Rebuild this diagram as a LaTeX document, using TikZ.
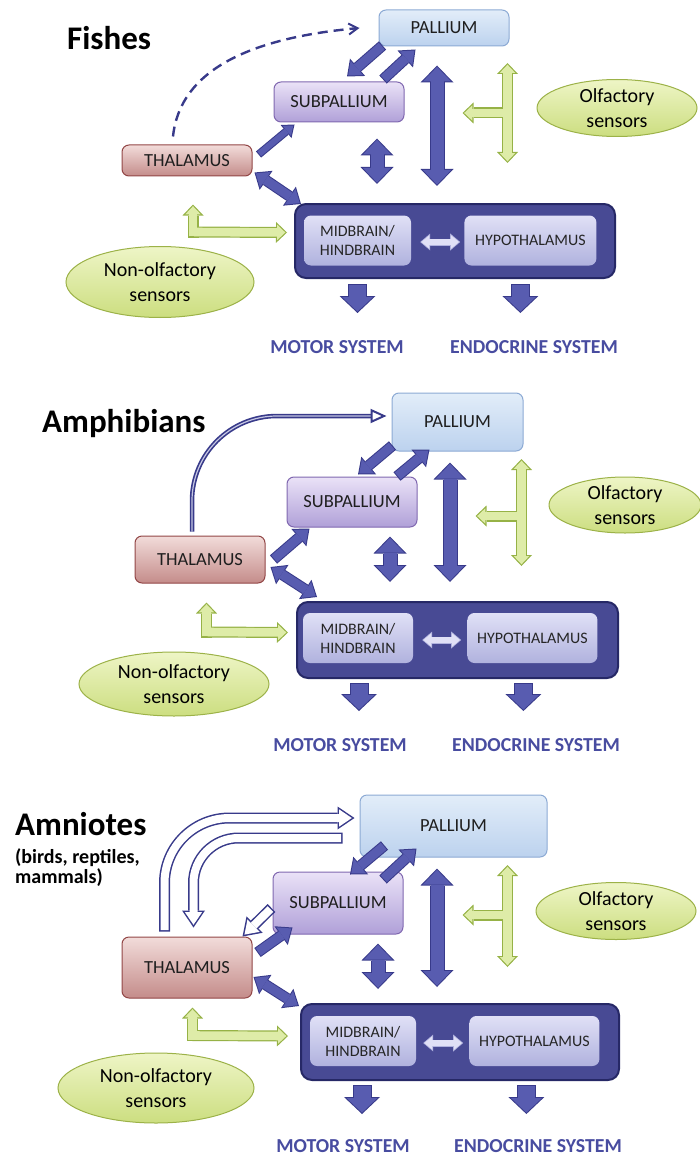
\documentclass[tikz,border=0pt]{standalone}
\usepackage{fontspec}
\setmainfont{Carlito}
\usetikzlibrary{arrows.meta,positioning,shapes.geometric,calc}
\definecolor{palTop}{RGB}{226,237,249}
\definecolor{palBot}{RGB}{188,210,238}
\definecolor{palEdge}{RGB}{140,170,212}
\definecolor{subTop}{RGB}{234,226,247}
\definecolor{subBot}{RGB}{176,160,216}
\definecolor{subEdge}{RGB}{128,104,176}
\definecolor{thalTop}{RGB}{242,220,218}
\definecolor{thalBot}{RGB}{196,140,138}
\definecolor{thalEdge}{RGB}{146,70,70}
\definecolor{stemFill}{RGB}{72,74,148}
\definecolor{stemEdge}{RGB}{38,40,102}
\definecolor{coreTop}{RGB}{224,224,246}
\definecolor{coreBot}{RGB}{176,178,222}
\definecolor{senTop}{RGB}{238,245,198}
\definecolor{senBot}{RGB}{204,222,128}
\definecolor{senEdge}{RGB}{156,178,72}
\definecolor{grFill}{RGB}{222,236,168}
\definecolor{grEdge}{RGB}{150,178,70}
\definecolor{arrBlue}{RGB}{88,92,176}
\definecolor{arrEdge}{RGB}{56,58,138}
\definecolor{sysBlue}{RGB}{72,76,160}
\newcommand{\textsz}[2]{\fontsize{#1}{#2}\selectfont}

\begin{document}
\begin{tikzpicture}[x=1pt, y=-1pt,
  region/.style={rounded corners=7pt, line width=1pt, minimum width=130pt, inner sep=0pt, font=\textsz{18.5}{20}, text=black!88},
  pallium/.style={region, draw=palEdge, top color=palTop, bottom color=palBot},
  subpallium/.style={region, draw=subEdge, top color=subTop, bottom color=subBot},
  thalamus/.style={region, draw=thalEdge, top color=thalTop, bottom color=thalBot},
  stem/.style={rounded corners=11pt, draw=stemEdge, line width=2pt, fill=stemFill, minimum width=320pt, minimum height=74pt, inner sep=0pt},
  core/.style={rounded corners=7pt, top color=coreTop, bottom color=coreBot, inner sep=0pt, minimum height=50pt, align=center, font=\textsz{16}{19}, text=black!85},
  sensor/.style={ellipse, draw=senEdge, line width=1pt, top color=senTop, bottom color=senBot, inner sep=0pt, align=center, font=\textsz{20}{24.5}},
  system/.style={font=\bfseries\textsz{19.8}{20}, text=sysBlue, inner sep=0pt},
  group/.style={font=\bfseries\textsz{33}{36}, anchor=base west, inner sep=0pt},
  % block arrows: dark outline drawn first, lighter body on top
  link/.style={draw=arrBlue, line width=9pt, shorten >=1.6pt, shorten <=1pt, -{Triangle[width=18.8pt,length=11.4pt,line width=0pt]},
    preaction={draw=arrEdge, line width=11pt, shorten >=0pt, shorten <=0pt, -{Triangle[width=23pt,length=14pt,line width=0pt]}}},
  linkboth/.style={draw=arrBlue, line width=9pt, shorten >=1.6pt, shorten <=1.6pt, {Triangle[width=18.8pt,length=11.4pt,line width=0pt]}-{Triangle[width=18.8pt,length=11.4pt,line width=0pt]},
    preaction={draw=arrEdge, line width=11pt, shorten >=0pt, shorten <=0pt, {Triangle[width=23pt,length=14pt,line width=0pt]}-{Triangle[width=23pt,length=14pt,line width=0pt]}}},
  thinarr/.style={draw=arrBlue, line width=6pt, shorten >=1.6pt, shorten <=1pt, -{Triangle[width=12.9pt,length=8.4pt,line width=0pt]},
    preaction={draw=arrEdge, line width=8pt, shorten >=0pt, shorten <=0pt, -{Triangle[width=17pt,length=11pt,line width=0pt]}}},
  vdbl/.style={draw=arrBlue, line width=13pt, shorten >=1.4pt, shorten <=1.4pt, {Triangle[width=28.3pt,length=14.6pt,line width=0pt]}-{Triangle[width=28.3pt,length=14.6pt,line width=0pt]},
    preaction={draw=arrEdge, line width=15pt, shorten >=0pt, shorten <=0pt, {Triangle[width=33pt,length=17pt,line width=0pt]}-{Triangle[width=33pt,length=17pt,line width=0pt]}}},
  sysarr/.style={draw=arrBlue, line width=17pt, shorten >=1.4pt, shorten <=1pt, -{Triangle[width=31pt,length=14.6pt,line width=0pt]},
    preaction={draw=arrEdge, line width=19pt, shorten >=0pt, shorten <=0pt, -{Triangle[width=36pt,length=17pt,line width=0pt]}}},
  wdbl/.style={draw=coreTop, line width=5.4pt, shorten >=1.2pt, shorten <=1.2pt, {Triangle[width=13.5pt,length=8pt,line width=0pt]}-{Triangle[width=13.5pt,length=8pt,line width=0pt]},
    preaction={draw=coreBot, line width=7pt, shorten >=0pt, shorten <=0pt, {Triangle[width=17pt,length=10pt,line width=0pt]}-{Triangle[width=17pt,length=10pt,line width=0pt]}}},
  gout/.style={draw=grEdge, line width=11pt, shorten >=0pt, shorten <=0pt, -{Triangle[width=21pt,length=11pt,line width=0pt]}},
  gin/.style={draw=grFill, line width=8.6pt, shorten >=1.7pt, shorten <=1.2pt, -{Triangle[width=15.4pt,length=8.1pt,line width=0pt]}},
  gone/.style={gin, preaction={gout}},
  gboth/.style={draw=grFill, line width=8.6pt, shorten >=1.7pt, shorten <=1.7pt, {Triangle[width=15.4pt,length=8.1pt,line width=0pt]}-{Triangle[width=15.4pt,length=8.1pt,line width=0pt]},
    preaction={draw=grEdge, line width=11pt, shorten >=0pt, shorten <=0pt, {Triangle[width=21pt,length=11pt,line width=0pt]}-{Triangle[width=21pt,length=11pt,line width=0pt]}}},
  hollow/.style={draw=white, line width=8pt, shorten >=2.7pt, shorten <=1.5pt, -{Triangle[width=17.4pt,length=12.8pt,line width=0pt]},
    preaction={draw=arrEdge, line width=11pt, shorten >=0pt, shorten <=0pt, -{Triangle[width=23pt,length=17pt,line width=0pt]}}},
  hint/.style={draw=arrEdge, line width=2.4pt, dash pattern=on 10pt off 6pt, -{Straight Barb[length=9pt,width=11pt,line width=2pt]}},
  bypass/.style={draw=arrEdge, line width=4.5pt, -{Triangle[open,width=14pt,length=16pt,line width=2pt]},
    postaction={draw=arrBlue!35!white, line width=1.2pt, shorten >=16pt, -}}]

\useasboundingbox (0,0) rectangle (699,1161);

% ---------- Fishes
\node[group] (fish) at (67,50) {Fishes};
\node[pallium, minimum height=36pt] (pal1) at (444,28) {PALLIUM};
\node[subpallium, minimum height=40pt] (sub1) at (339,102) {SUBPALLIUM};
\node[thalamus, minimum height=31pt] (thal1) at (187,160.5) {THALAMUS};
\node[sensor, minimum width=160pt, minimum height=57pt] (olf1) at (617,108) {Olfactory\\sensors};
\node[stem] (stem1) at (455,241) {};
\node[core, minimum width=107pt] (mid1) at (357.5,240.5) {MIDBRAIN/\\HINDBRAIN};
\node[core, minimum width=132pt, right=53pt of mid1] (hyp1) {HYPOTHALAMUS};
\node[sensor, minimum width=188pt, minimum height=71pt] (non1) at (160,282) {Non-olfactory\\sensors};
\node[system] (mot1) at (337,347) {MOTOR SYSTEM};
\node[system] (endo1) at (534,347) {ENDOCRINE SYSTEM};

\draw[hint] ([shift={(-14,-8)}]thal1.north) .. controls (180,70) and (250,38) .. ([shift={(-19,0)}]pal1.west);
\draw[link] ([shift={(4,-1)}]pal1.south west) -- ([shift={(8,-5)}]sub1.north);
\draw[link] ([shift={(44,-2)}]sub1.north) -- ([shift={(37,3)}]pal1.south west);
\draw[thinarr] ([shift={(6,10)}]thal1.north east) -- ([shift={(21,2)}]sub1.south west);
\draw[linkboth] ([shift={(2,-4)}]thal1.south east) -- ([shift={(7,1)}]stem1.north west);
\draw[vdbl] ([shift={(38,16)}]sub1.south) -- ([shift={(-78,-19)}]stem1.north);
\draw[vdbl] ([shift={(-7,19)}]pal1.south) -- ([shift={(-18,-17)}]stem1.north);
\coordinate (h1) at ([shift={(-29,5)}]olf1.west);
\coordinate (h1tip) at ([shift={(-74,5)}]olf1.west);
\draw[gout] (h1) -- (h1tip);
\draw[gboth] ([shift={(0,-50)}]h1) -- ([shift={(0,50)}]h1);
\draw[gin] (h1) -- (h1tip);
\coordinate (c1) at ([shift={(33,-14)}]non1.north);
\draw[gout] (c1) -- ([shift={(-7,-8.5)}]stem1.west);
\draw[gone] ([shift={(0,5.5)}]c1) -- ([shift={(0,-27.5)}]c1);
\draw[gin] (c1) -- ([shift={(-7,-8.5)}]stem1.west);
\draw[wdbl] ([shift={(9,1.5)}]mid1.east) -- ([shift={(-4,1.5)}]hyp1.west);
\draw[sysarr] ($(stem1.south -| mid1)+(0,5)$) -- ($(stem1.south -| mid1)+(0,34)$);
\draw[sysarr] ($(stem1.south -| hyp1)+(-10,5)$) -- ($(stem1.south -| hyp1)+(-10,34)$);

% ---------- Amphibians
\node[group] (amph) at (42,432) {Amphibians};
\node[pallium, minimum width=131pt, minimum height=58pt] (pal2) at (457.5,422) {PALLIUM};
\node[subpallium, minimum height=50pt] (sub2) at (352,502) {SUBPALLIUM};
\node[thalamus, minimum height=47pt] (thal2) at (200,559.5) {THALAMUS};
\node[sensor, minimum width=152pt, minimum height=56pt] (olf2) at (625,505) {Olfactory\\sensors};
\node[stem, minimum width=321pt, minimum height=76pt] (stem2) at (457.5,640) {};
\node[core, minimum width=110pt] (mid2) at (358,638) {MIDBRAIN/\\HINDBRAIN};
\node[core, minimum width=130pt, right=54pt of mid2] (hyp2) {HYPOTHALAMUS};
\node[sensor, minimum width=190pt, minimum height=64pt] (non2) at (174,684) {Non-olfactory\\sensors};
\node[system] (mot2) at (340,745) {MOTOR SYSTEM};
\node[system] (endo2) at (536,745) {ENDOCRINE SYSTEM};

\draw[bypass, rounded corners=85pt] ([shift={(-8,-4)}]thal2.north) |- ([shift={(-5,-6)}]pal2.west);
\draw[link] ([shift={(1,-6)}]pal2.south west) -- ([shift={(6,-2)}]sub2.north);
\draw[link] ([shift={(45,0)}]sub2.north) -- ([shift={(38,-2)}]pal2.south west);
\draw[link] ([shift={(8,24)}]thal2.north east) -- ([shift={(23,1)}]sub2.south west);
\draw[linkboth] ([shift={(5,7.5)}]thal2.east) -- ([shift={(21,-4)}]stem2.north west);
\draw[vdbl] ([shift={(38,9)}]sub2.south) -- ([shift={(-67.5,-19)}]stem2.north);
\draw[vdbl] ([shift={(-7.5,11)}]pal2.south) -- ([shift={(-7.5,-19)}]stem2.north);
\coordinate (h2) at ([shift={(-27,11)}]olf2.west);
\coordinate (h2tip) at ([shift={(-73,11)}]olf2.west);
\draw[gout] (h2) -- (h2tip);
\draw[gboth] ([shift={(0,-57)}]h2) -- ([shift={(0,50)}]h2);
\draw[gin] (h2) -- (h2tip);
\coordinate (c2) at ([shift={(32.5,-19.5)}]non2.north);
\draw[gout] (c2) -- ([shift={(-8,-7.5)}]stem2.west);
\draw[gone] ([shift={(0,5.5)}]c2) -- ([shift={(0,-29.5)}]c2);
\draw[gin] (c2) -- ([shift={(-8,-7.5)}]stem2.west);
\draw[wdbl] ([shift={(9,2)}]mid2.east) -- ([shift={(-6,2)}]hyp2.west);
\draw[sysarr] ($(stem2.south -| mid2)+(1,4)$) -- ($(stem2.south -| mid2)+(1,32)$);
\draw[sysarr] ($(stem2.south -| hyp2)+(-9,4)$) -- ($(stem2.south -| hyp2)+(-9,32)$);

% ---------- Amniotes
\node[group] (amn) at (15,835) {Amniotes};
\node[anchor=base west, inner sep=0pt, align=left, font=\bfseries\textsz{20}{20}] (amnlist) at (15,883) {(birds, reptiles,\\mammals)};
\node[pallium, minimum width=187pt, minimum height=62pt] (pal3) at (453.5,826) {PALLIUM};
\node[subpallium, minimum height=62pt] (sub3) at (338,903) {SUBPALLIUM};
\node[thalamus, minimum height=61pt] (thal3) at (187,967.5) {THALAMUS};
\node[sensor, minimum width=160pt, minimum height=57pt] (olf3) at (616,911) {Olfactory\\sensors};
\node[stem, minimum width=318pt, minimum height=76pt] (stem3) at (460,1042) {};
\node[core, minimum width=106pt] (mid3) at (363,1041) {MIDBRAIN/\\HINDBRAIN};
\node[core, minimum width=130pt, right=53pt of mid3] (hyp3) {HYPOTHALAMUS};
\node[sensor, minimum width=196pt, minimum height=70pt] (non3) at (156,1088) {Non-olfactory\\sensors};
\node[system] (mot3) at (343,1146) {MOTOR SYSTEM};
\node[system] (endo3) at (538,1146) {ENDOCRINE SYSTEM};

\draw[hollow, rounded corners=65pt] ([shift={(-22.5,-5)}]thal3.north) |- ([shift={(-5,-8)}]pal3.west);
\draw[hollow, rounded corners=45pt] ([shift={(-17,12)}]pal3.west) -| ([shift={(6.5,-9)}]thal3.north);
\draw[hollow] ([shift={(-1,5)}]sub3.west) -- ([shift={(-10,0)}]thal3.north east);
\draw[link] ([shift={(25,-12)}]pal3.south west) -- ([shift={(12,3)}]sub3.north);
\draw[link] ([shift={(45,8)}]sub3.north) -- ([shift={(57,-9)}]pal3.south west);
\draw[link] ([shift={(5,16)}]thal3.north east) -- ([shift={(20,-7)}]sub3.south west);
\draw[linkboth] ([shift={(1,9.5)}]thal3.east) -- ([shift={(-1,3)}]stem3.north west);
\draw[vdbl] ([shift={(40,9)}]sub3.south) -- ([shift={(-82,-14)}]stem3.north);
\draw[vdbl] ([shift={(-16.5,11)}]pal3.south) -- ([shift={(-23,-16)}]stem3.north);
\coordinate (h3) at ([shift={(-28,4)}]olf3.west);
\coordinate (h3tip) at ([shift={(-73,4)}]olf3.west);
\draw[gout] (h3) -- (h3tip);
\draw[gboth] ([shift={(0,-50)}]h3) -- ([shift={(0,52)}]h3);
\draw[gin] (h3) -- (h3tip);
\coordinate (c3) at ([shift={(36.5,-17)}]non3.north);
\draw[gout] (c3) -- ([shift={(-12,-6)}]stem3.west);
\draw[gone] ([shift={(0,5.5)}]c3) -- ([shift={(0,-28)}]c3);
\draw[gin] (c3) -- ([shift={(-12,-6)}]stem3.west);
\draw[wdbl] ([shift={(7,2)}]mid3.east) -- ([shift={(-6,2)}]hyp3.west);
\draw[sysarr] ($(stem3.south -| mid3)+(-1,4)$) -- ($(stem3.south -| mid3)+(-1,33)$);
\draw[sysarr] ($(stem3.south -| hyp3)+(-8,4)$) -- ($(stem3.south -| hyp3)+(-8,33)$);
\end{tikzpicture}
\end{document}
